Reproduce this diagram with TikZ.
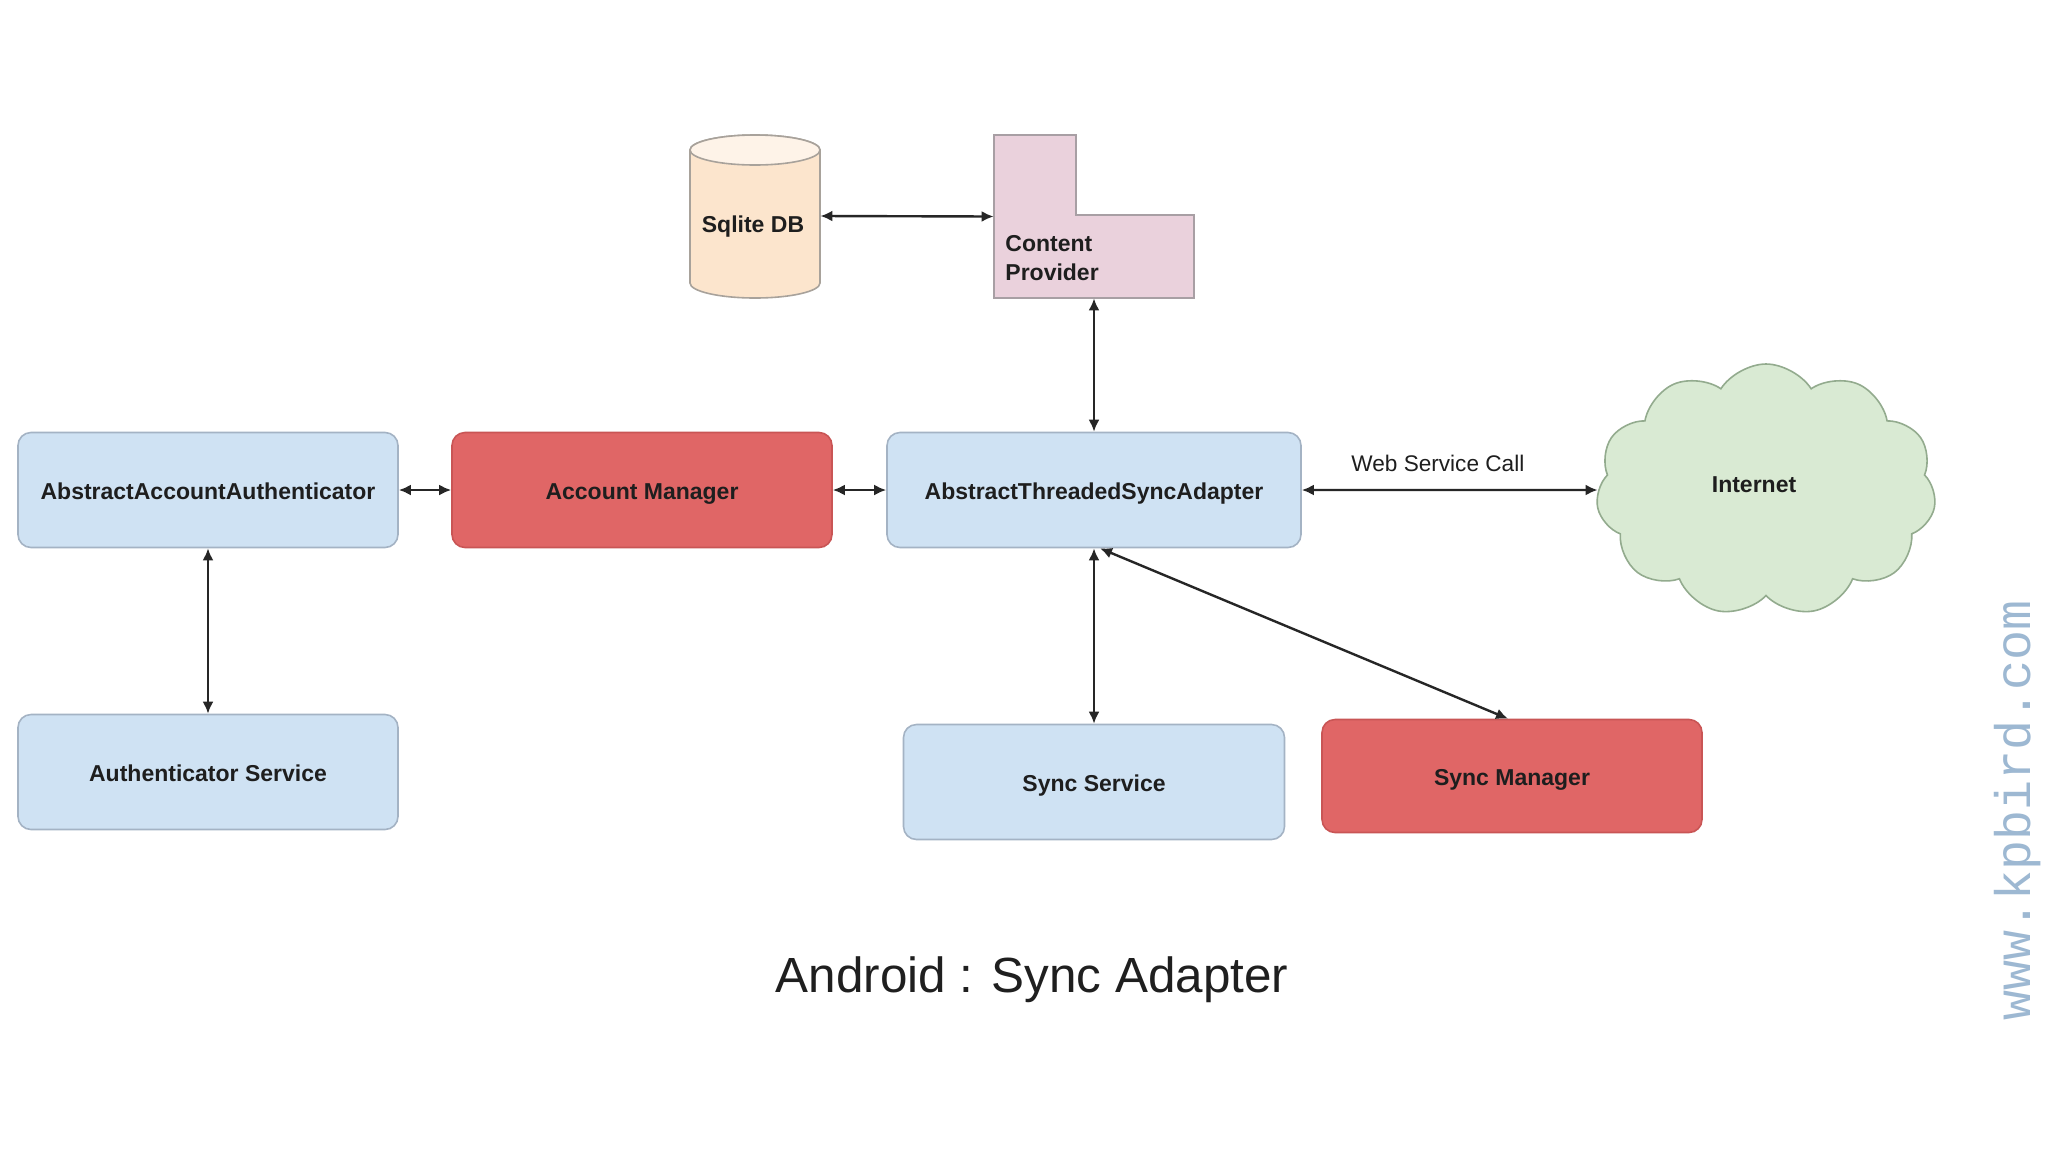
\documentclass[tikz,border=0pt]{standalone}
\usepackage{fontspec}
\setmainfont{Liberation Sans}
\newfontfamily\wmfont{Liberation Mono}
\usetikzlibrary{arrows.meta,shapes.symbols,calc}

\definecolor{bluefill}{HTML}{CFE2F3}
\definecolor{blueline}{HTML}{A4B3C4}
\definecolor{redfill}{HTML}{E06666}
\definecolor{redline}{HTML}{C95555}
\definecolor{dbfill}{HTML}{FCE5CD}
\definecolor{dbline}{HTML}{A8A29B}
\definecolor{cpfill}{HTML}{EAD1DC}
\definecolor{cpline}{HTML}{A89FA4}
\definecolor{cloudfill}{HTML}{D9EAD3}
\definecolor{cloudline}{HTML}{93AB8E}
\definecolor{txt}{HTML}{1E1E1E}
\definecolor{wm}{HTML}{9DB8D2}

\begin{document}
\begin{tikzpicture}[x=0.5pt,y=-0.5pt,
  lbl/.style={font=\bfseries\fontsize{11.5}{14.5}\selectfont, text=txt},
  box/.style={lbl, rectangle, rounded corners=6.5pt, draw=blueline, fill=bluefill,
    line width=0.8pt, minimum width=190pt, minimum height=57.5pt, inner sep=0pt,
    text height=10.5pt, text depth=1.4pt},
  redbox/.style={box, draw=redline, fill=redfill},
  conn/.style={{Latex[length=6pt,width=5.5pt]}-{Latex[length=6pt,width=5.5pt]},
    line width=1.2pt, draw=black!85},
]
\path[use as bounding box, fill=white] (0,0) rectangle (2048,1152);

% boxes
\node[box] (aaa) at (208,490) {AbstractAccountAuthenticator};
\node[redbox] (am) at (642,490) {Account Manager};
\node[box, minimum width=207pt] (atsa) at (1094,490) {AbstractThreadedSyncAdapter};
\node[box] (auth) at (208,772) {Authenticator Service};
\node[box, minimum width=190.5pt] (ss) at (1094,782) {Sync Service};
\node[redbox, minimum height=56.5pt] (sm) at (1512,776) {Sync Manager};

% Sqlite cylinder
\filldraw[fill=dbfill, draw=dbline, line width=0.8pt]
  (690,150) -- (690,283) arc[start angle=180,end angle=360,x radius=32.5pt,y radius=7.5pt]
  -- (820,150) arc[start angle=0,end angle=180,x radius=32.5pt,y radius=7.5pt] -- cycle;
\filldraw[fill=dbfill!45!white, draw=dbline, line width=0.8pt]
  (755,150) ellipse[x radius=32.5pt, y radius=7.5pt];
\node[lbl, minimum width=65pt, minimum height=81.5pt, inner sep=0pt] (db) at (755,216) {};
\node[lbl] (dbt) at (753,227) {Sqlite DB};

% Content provider
\filldraw[fill=cpfill, draw=cpline, line width=0.8pt]
  (994,135) -- (1076,135) -- (1076,215) -- (1194,215) -- (1194,298) -- (994,298) -- cycle;
\node[minimum width=100pt, minimum height=81.5pt, inner sep=0pt] (cp) at (1094,216.5) {};
\node[lbl, anchor=west, align=left, inner sep=0pt] (cpt) at (1005,258) {Content\\Provider};

% Internet cloud
\node[cloud, cloud puffs=11, cloud puff arc=115, aspect=1.35, draw=cloudline, fill=cloudfill,
  line width=0.8pt, minimum width=170pt, minimum height=126pt, inner sep=0pt]
  (net) at (1766,490) {};
\node[lbl] (nett) at (1754,485) {Internet};

% connectors
\draw[conn] (aaa.east) -- (am.west);
\draw[conn] (am.east) -- (atsa.west);
\draw[conn] (db.east) -- (cp.west);
\draw[conn] (cp.south) -- (atsa.north);
\draw[conn] (aaa.south) -- (auth.north);
\draw[conn] (atsa.south) -- (ss.north);
\draw[conn] ([xshift=3pt]atsa.south) -- ([xshift=-2pt]sm.north);
\draw[conn] (atsa.east) -- node[above=5pt, pos=0.46, font=\fontsize{11.3}{13}\selectfont, text=txt] (wsc) {Web Service Call} (net.west);

% title and watermark
\node[font=\fontsize{24.7}{30}\selectfont, text=black!88] (title) at (1032,980) {Android : Sync Adapter};
\node[rotate=90, font=\wmfont\fontsize{25}{30}\selectfont, text=wm] (wmk) at (2018,810) {www.kpbird.com};
\end{tikzpicture}
\end{document}
